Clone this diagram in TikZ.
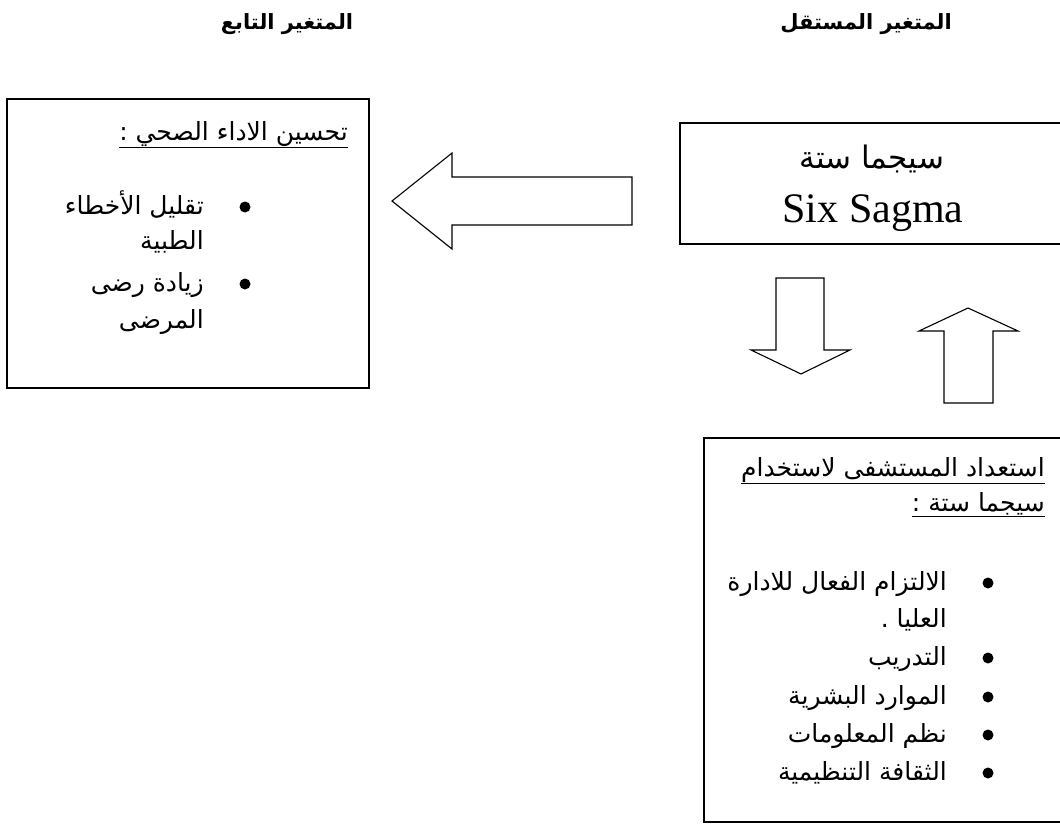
\documentclass[tikz,border=0pt]{standalone}
\usepackage{fontspec}
\setmainfont{Liberation Serif}
\newfontfamily\arabicfont[Script=Arabic]{DejaVu Sans}
\TeXXeTstate=1
\usetikzlibrary{positioning}
\newcommand{\ArText}[1]{\beginR #1\endR}
\tikzstyle{Frame}=[draw,line width=1.3pt]
\tikzstyle{BlockArrow}=[draw,line width=1.1pt,line join=miter]
\tikzstyle{Heading}=[inner sep=0pt,font=\arabicfont\bfseries\fontsize{21}{25}\selectfont]
\tikzstyle{Body}=[inner sep=0pt,font=\arabicfont\fontsize{25}{30}\selectfont]
\tikzstyle{Dot}=[circle,fill=black,inner sep=0pt,minimum size=11pt]

\begin{document}
\begin{tikzpicture}[x=1pt,y=-1pt]
        \useasboundingbox (0,0) rectangle (1060,824);
        % headings
        \node[Heading,anchor=base](indep)at(866,30){\ArText{المتغير المستقل}};
        \node[Heading,anchor=base](dep)at(287,30){\ArText{المتغير التابع}};
        % boxes
        \draw[Frame](7,99)rectangle(369,388);
        \draw[Frame](680,123)rectangle(1070,244);
        \draw[Frame](704,438)rectangle(1070,822);
        % six sigma
        \node[Body,anchor=base,font=\arabicfont\fontsize{31}{33}\selectfont](sigmaAr)at(872,168){\ArText{سيجما ستة}};
        \node[inner sep=0pt,anchor=base,font=\fontsize{42}{44}\selectfont](sigmaEn)at(873,222){Six Sagma};
        % dependent variable
        \node[Body,anchor=base east](perfTitle)at(348,140){\underline{\ArText{تحسين الاداء الصحي :}}};
        \node[Dot](dotA)at(245,207){};
        \node[Body,anchor=base east](perfA1)at(204,214){\ArText{تقليل الأخطاء}};
        \node[Body,anchor=base east](perfA2)at(204,249){\ArText{الطبية}};
        \node[Dot](dotB)at(245,284){};
        \node[Body,anchor=base east](perfB1)at(204,291){\ArText{زيادة رضى}};
        \node[Body,anchor=base east](perfB2)at(204,328){\ArText{المرضى}};
        % readiness
        \node[Body,anchor=base east](readyT1)at(1045,476){\underline{\ArText{استعداد المستشفى لاستخدام}}};
        \node[Body,anchor=base east](readyT2)at(1045,511){\underline{\ArText{سيجما ستة :}}};
        \node[Dot](dotC)at(988,583){};
        \node[Body,anchor=base east](readyA1)at(947,590){\ArText{الالتزام الفعال للادارة}};
        \node[Body,anchor=base east](readyA2)at(947,627){\ArText{العليا .}};
        \node[Dot](dotD)at(988,658){};
        \node[Body,anchor=base east](readyB)at(947,665){\ArText{التدريب}};
        \node[Dot](dotE)at(988,697){};
        \node[Body,anchor=base east](readyC)at(947,704){\ArText{الموارد البشرية}};
        \node[Dot](dotF)at(988,735){};
        \node[Body,anchor=base east](readyD)at(947,742){\ArText{نظم المعلومات}};
        \node[Dot](dotG)at(988,773){};
        \node[Body,anchor=base east](readyE)at(947,780){\ArText{الثقافة التنظيمية}};
        % block arrows
        \draw[BlockArrow](632,177)--(452,177)--(452,153)--(392,201)--(452,249)--(452,225)--(632,225)--cycle;
        \draw[BlockArrow](776,278)--(824,278)--(824,350)--(850,350)--(801,374)--(751,350)--(776,350)--cycle;
        \draw[BlockArrow](944,403)--(944,331)--(919,331)--(968,308)--(1018,331)--(993,331)--(993,403)--cycle;
    \end{tikzpicture}
\end{document}
